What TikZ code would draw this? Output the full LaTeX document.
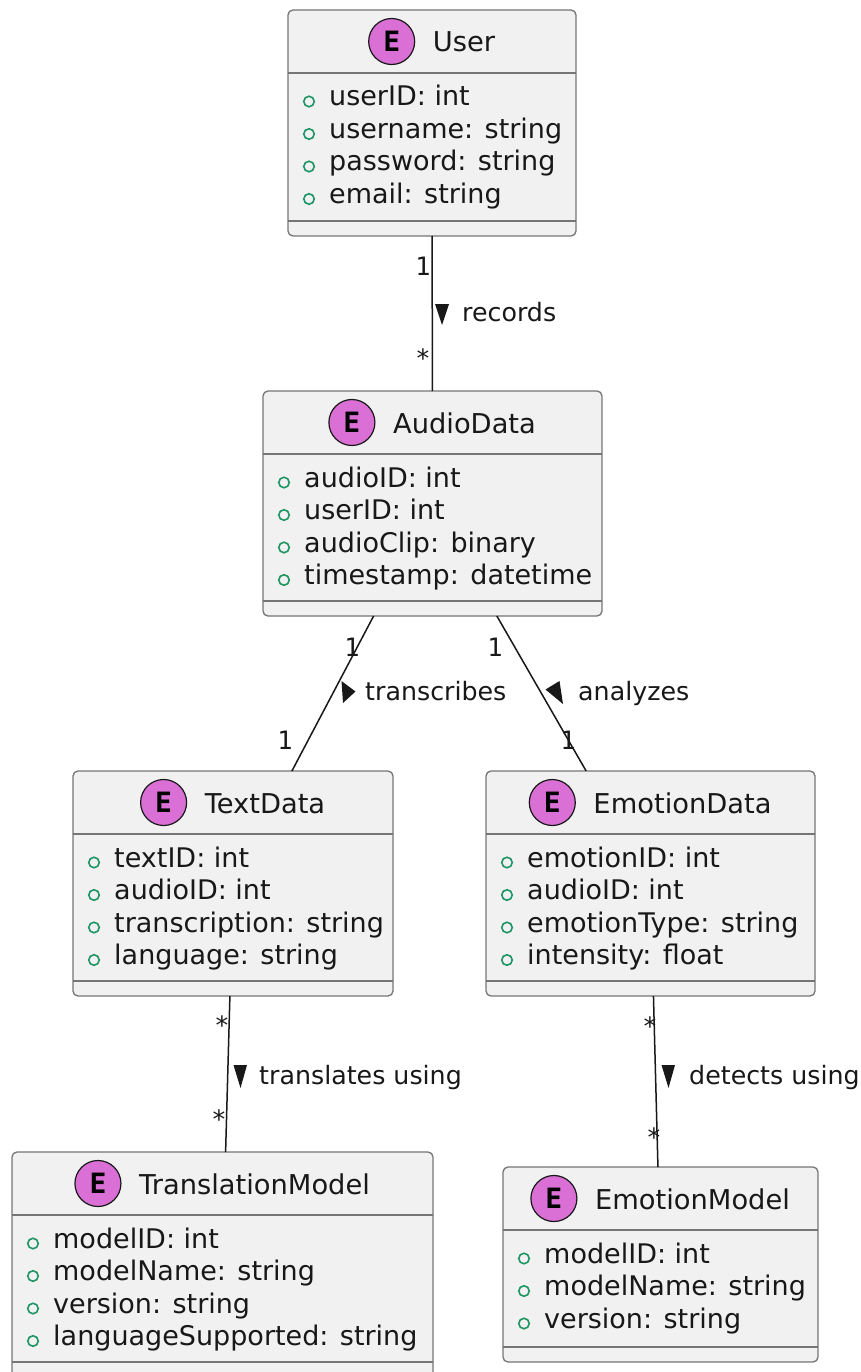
\documentclass[tikz,border=0pt]{standalone}
\usepackage{fontspec}
\setmainfont{DejaVu Sans}
\newfontfamily\multfont{DejaVu Sans Mono}

\definecolor{boxfill}{HTML}{F1F1F1}
\definecolor{boxline}{HTML}{757575}
\definecolor{inkline}{HTML}{181818}
\definecolor{entityicon}{HTML}{DA70D6}
\definecolor{fieldmark}{HTML}{1F9464}

\tikzset{
  erbody/.style={draw=boxline, fill=boxfill, line width=1.3pt, rounded corners=5pt,
                 inner sep=0pt, outer sep=0pt},
  divline/.style={draw=boxline, line width=1.3pt},
  ertitle/.style={inner sep=0pt, anchor=base, text=inkline, font=\fontsize{27.3}{32}\selectfont},
  erattr/.style={inner sep=0pt, anchor=base west, text=inkline, font=\fontsize{27}{32}\selectfont},
  ecircle/.style={circle, draw=inkline, fill=entityicon, line width=1.2pt,
                  minimum size=46pt, inner sep=0pt, outer sep=0pt},
  eletter/.style={inner sep=0pt, text=black, font=\multfont\fontsize{28}{30}\selectfont\bfseries},
  fieldmarker/.style={circle, draw=fieldmark, line width=1.6pt, minimum size=10.5pt, inner sep=0pt},
  relation/.style={draw=inkline, line width=1.5pt},
  rellabel/.style={inner sep=0pt, anchor=base west, text=inkline, font=\fontsize{25.3}{30}\selectfont},
  mult/.style={inner sep=0pt, text=inkline, font=\multfont\fontsize{25.3}{30}\selectfont},
  dirmark/.style={fill=inkline, draw=none},
}

% entity box: name, left, top, right, bottom, title
\newcommand\erbox[6]{%
  \node[erbody, minimum width={(#4-#2)*1pt}, minimum height={(#5-#3)*1pt}]
       (#1) at ({(#2+#4)/2},{(#3+#5)/2}) {};
  \draw[divline] (#2,#3+63) -- (#4,#3+63);
  \draw[divline] (#2,#5-15) -- (#4,#5-15);
  \node[ertitle] (#1-title) at ({(#2+#4)/2},#3+42) {\hspace{64pt}#6};
  \path ([xshift=23pt]#1-title.base west) ++(0,-10.5) coordinate (#1-c);
  \node[ecircle] (#1-icon) at (#1-c) {};
  \node[eletter] (#1-letter) at (#1-c) {E};
}

% attribute rows: name, left, top, list of fields
\newcommand\erfields[4]{%
  \foreach \fld [count=\i from 0] in {#4} {
    \node[erattr] (#1-f\i) at (#2+41, #3+96+32.5*\i) {\fld};
    \node[fieldmarker] (#1-m\i) at (#2+21, #3+91.5+32.5*\i) {};
  }
}

\begin{document}
\begin{tikzpicture}[x=1pt, y=-1pt]
\useasboundingbox[fill=white] (0,0) rectangle (860,1372);

% entities
\erbox{user}{288}{10}{576}{236}{User}
\erfields{user}{288}{10}{userID: int, username: string, password: string, email: string}

\erbox{audio}{263}{391}{602}{616}{AudioData}
\erfields{audio}{263}{391}{audioID: int, userID: int, audioClip: binary, timestamp: datetime}

\erbox{text}{73}{771}{393}{996}{TextData}
\erfields{text}{73}{771}{textID: int, audioID: int, transcription: string, language: string}

\erbox{emotion}{486}{771}{815}{996}{EmotionData}
\erfields{emotion}{486}{771}{emotionID: int, audioID: int, emotionType: string, intensity: float}

\erbox{transmodel}{12}{1152}{433}{1377}{TranslationModel}
\erfields{transmodel}{12}{1152}{modelID: int, modelName: string, version: string, languageSupported: string}

\erbox{emomodel}{503}{1167}{818}{1362}{EmotionModel}
\erfields{emomodel}{503}{1167}{modelID: int, modelName: string, version: string}

% relations
\draw[relation] (user) -- (audio);
\draw[relation] (audio) -- (text);
\draw[relation] (audio) -- (emotion);
\draw[relation] (text) -- (transmodel);
\draw[relation] (emotion) -- (emomodel);

% multiplicities
\node[mult] (m-user) at (423,266) {1};
\node[mult] (m-audio1) at (423,358) {*};
\node[mult] (m-audio2) at (352,647) {1};
\node[mult] (m-text1) at (285,740) {1};
\node[mult] (m-audio3) at (495,647) {1};
\node[mult] (m-emo1) at (568,740) {1};
\node[mult] (m-text2) at (222,1025) {*};
\node[mult] (m-trans) at (219,1119) {*};
\node[mult] (m-emo2) at (650,1026) {*};
\node[mult] (m-emomod) at (654,1137) {*};

% relation names with reading direction
\fill[dirmark] (435,304) -- (449,304) -- (442,325) -- cycle;
\node[rellabel] (l-records) at (462,321) {records};

\fill[dirmark] (341.5,681) -- (355.5,691.5) -- (343,703) -- cycle;
\node[rellabel] (l-transcribes) at (365,700) {transcribes};

\fill[dirmark] (559.5,681) -- (563,704) -- (545.5,689.5) -- cycle;
\node[rellabel] (l-analyzes) at (578,700) {analyzes};

\fill[dirmark] (233.5,1065) -- (247,1065) -- (240.5,1088) -- cycle;
\node[rellabel] (l-translates) at (259,1084) {translates using};

\fill[dirmark] (661.5,1065) -- (675,1065) -- (668.5,1088) -- cycle;
\node[rellabel] (l-detects) at (689,1084) {detects using};
\end{tikzpicture}
\end{document}
